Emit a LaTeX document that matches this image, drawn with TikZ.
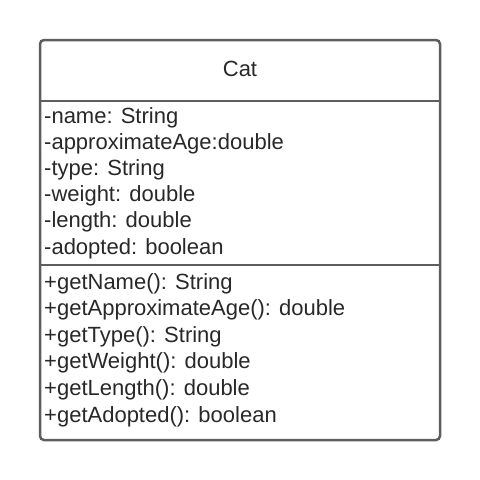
\documentclass[tikz,border=0pt]{standalone}
\usepackage{fontspec}
\setmainfont{Liberation Sans}
\definecolor{linec}{RGB}{94,94,94}
\definecolor{txtc}{RGB}{40,40,40}
\begin{document}
\begin{tikzpicture}[x=1pt,y=-1pt,
  member/.style={anchor=base west,inner sep=0pt,text=txtc,font=\fontsize{22}{26}\selectfont},
  title/.style={anchor=base,inner sep=0pt,text=txtc,font=\fontsize{22}{26}\selectfont}]
\useasboundingbox (0,0) rectangle (480,480);
\draw[linec,line width=2.5pt,rounded corners=4pt] (40,40) rectangle (440,440);
\coordinate (d1l) at (40,101); \coordinate (d1r) at (440,101);
\coordinate (d2l) at (40,265); \coordinate (d2r) at (440,265);
\draw[linec,line width=2.5pt] (d1l) -- (d1r);
\draw[linec,line width=2.5pt] (d2l) -- (d2r);
\node[title] (cat) at (240,76.5) {Cat};
\node[member] (a1) at (44,123) {-name: String};
\node[member] (a2) at (44,149.2) {-approximateAge:double};
\node[member] (a3) at (44,175.4) {-type: String};
\node[member] (a4) at (44,201.6) {-weight: double};
\node[member] (a5) at (44,227.8) {-length: double};
\node[member] (a6) at (44,254) {-adopted: boolean};
\node[member] (m1) at (44,289) {+getName(): String};
\node[member] (m2) at (44,315.6) {+getApproximateAge(): double};
\node[member] (m3) at (44,342.2) {+getType(): String};
\node[member] (m4) at (44,368.8) {+getWeight(): double};
\node[member] (m5) at (44,395.4) {+getLength(): double};
\node[member] (m6) at (44,422) {+getAdopted(): boolean};
\end{tikzpicture}
\end{document}
